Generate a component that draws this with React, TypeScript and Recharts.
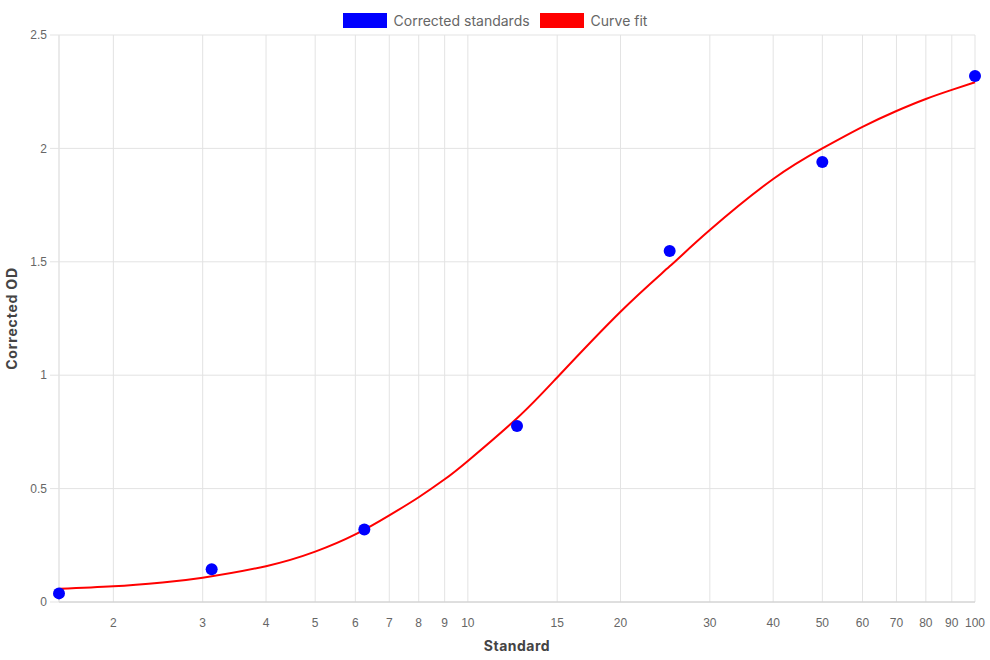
import {
  ComposedChart, Line, Scatter, XAxis, YAxis, CartesianGrid, Legend,
} from 'recharts'

// ── データ ─────────────────────────────────────────────────────────────
const STD_CONC = [1.5625, 3.125, 6.25, 12.5, 25, 50, 100]
const STD_OD   = [0.038, 0.144, 0.32, 0.776, 1.548, 1.94, 2.319]

const FIT_CONC = [1.5625, 2, 2.5, 3, 4, 5, 6, 7, 8, 9, 10, 12.5, 15, 20, 25, 30, 40, 50, 60, 70, 80, 90, 100]
const FIT_OD   = [0.058, 0.069, 0.086, 0.107, 0.158, 0.222, 0.298, 0.382, 0.462, 0.541, 0.622, 0.81, 0.99, 1.28, 1.48, 1.64, 1.865, 2.0, 2.095, 2.165, 2.218, 2.258, 2.292]

const X_TICKS = [1.5625, 2, 3, 4, 5, 6, 7, 8, 9, 10, 15, 20, 30, 40, 50, 60, 70, 80, 90, 100]
const Y_TICKS = [0, 0.5, 1, 1.5, 2, 2.5]

const LEGEND_ITEMS = [
  { label: 'Corrected standards', color: '#0000ff' },
  { label: 'Curve fit', color: '#ff0000' },
]

const stdData = STD_CONC.map((x, i) => ({ x, y: STD_OD[i] }))
const fitData = FIT_CONC.map((x, i) => ({ x, y: FIT_OD[i] }))

const TITLE_FONT = 'Inter, "Noto Sans", sans-serif'
const TICK_FONT  = '"Liberation Sans", Arial, sans-serif'

function TopLegend() {
  return (
    <div style={{ height: 30, display: 'flex', justifyContent: 'center', alignItems: 'flex-start', paddingTop: 8, paddingLeft: 15, boxSizing: 'border-box', fontFamily: TITLE_FONT, fontSize: 14, color: '#666' }}>
      {LEGEND_ITEMS.map(it => (
        <span key={it.label} style={{ display: 'flex', alignItems: 'center', margin: '0 5px' }}>
          <span style={{ display: 'inline-block', width: 44, height: 15, background: it.color, marginRight: 7 }} />
          <span style={{ lineHeight: '15px' }}>{it.label}</span>
        </span>
      ))}
    </div>
  )
}

export default function App() {
  return (
    <div style={{ position: 'absolute', left: 0, top: 0, width: 990, height: 660, background: '#fff' }}>
      <ComposedChart width={990} height={660} margin={{ top: 5, right: 15, bottom: 0, left: 0 }}>
        <Legend verticalAlign="top" align="center" height={30} content={() => <TopLegend />} />
        <CartesianGrid stroke="#e3e3e3" strokeWidth={1} />
        <XAxis
          type="number"
          dataKey="x"
          scale="log"
          domain={[X_TICKS[0], 100]}
          ticks={X_TICKS}
          interval={0}
          height={58}
          tickLine={false}
          tickSize={8}
          tickMargin={8}
          axisLine={{ stroke: '#cccccc' }}
          tick={{ fontSize: 12, fill: '#666', fontFamily: TICK_FONT }}
          tickFormatter={v => (v < 2 ? '' : String(v))}
          label={{ value: 'Standard', position: 'insideBottom', offset: 9, fontSize: 14, fontWeight: 700, letterSpacing: 0.5, fill: '#444', fontFamily: TITLE_FONT }}
        />
        <YAxis
          type="number"
          dataKey="y"
          domain={[0, 2.5]}
          ticks={Y_TICKS}
          width={59}
          tickSize={9}
          tickMargin={3}
          tickLine={{ stroke: '#e3e3e3' }}
          axisLine={{ stroke: '#e3e3e3' }}
          tick={{ fontSize: 12, fill: '#666', fontFamily: TICK_FONT }}
          label={{ value: 'Corrected OD', angle: -90, position: 'insideLeft', offset: 12, style: { textAnchor: 'middle' }, fontSize: 14, fontWeight: 700, letterSpacing: 0.8, fill: '#444', fontFamily: TITLE_FONT }}
        />
        <Line
          data={fitData}
          dataKey="y"
          type="natural"
          stroke="#ff0000"
          strokeWidth={2}
          dot={false}
          activeDot={false}
          isAnimationActive={false}
          legendType="none"
        />
        <Scatter
          data={stdData}
          dataKey="y"
          fill="#0000ff"
          shape={(p: any) => <circle cx={p.cx} cy={p.cy} r={6} fill="#0000ff" />}
          isAnimationActive={false}
        />
      </ComposedChart>
    </div>
  )
}
